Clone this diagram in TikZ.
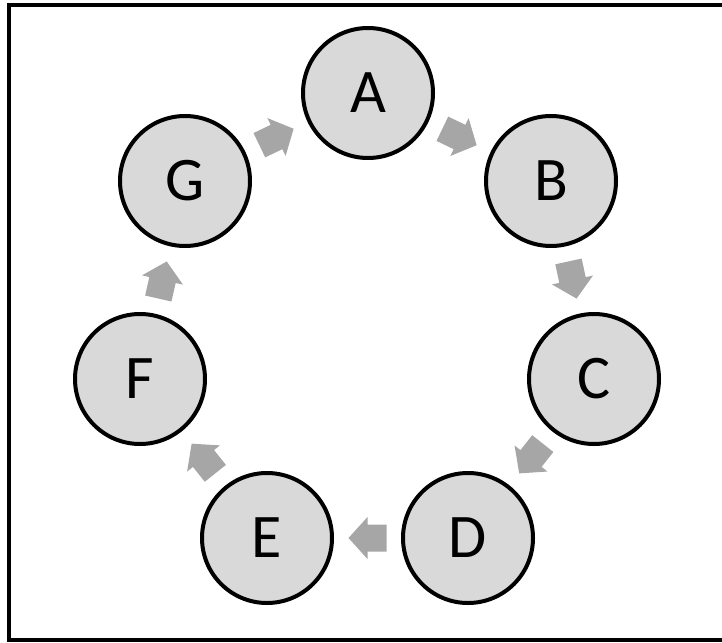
\documentclass[tikz,border=0pt]{standalone}
\usepackage{fontspec}
\setmainfont{Carlito}
\definecolor{nodegray}{HTML}{D9D9D9}
\definecolor{arrowgray}{HTML}{A6A6A6}
\tikzset{
  stage/.style={circle, draw=black, line width=4pt, fill=nodegray, minimum size=130pt, inner sep=0pt, font=\fontsize{62}{62}\selectfont},
  flowarrow/.pic={\fill[arrowgray] (-19,-13.5) -- (0,-13.5) -- (0,-21) -- (19,0) -- (0,21) -- (0,13.5) -- (-19,13.5) -- cycle;},
  frame/.style={draw=black, line width=4pt}
}
\begin{document}
\begin{tikzpicture}[x=1pt, y=-1pt]
\useasboundingbox (0,0) rectangle (722,642);
\clip (0,0) rectangle (722,642);
\draw[frame] (8.5,5.5) rectangle (740,639.5);
\node[stage] (A) at (368,93) {A};
\node[stage] (B) at (551,181) {B};
\node[stage] (C) at (594,379) {C};
\node[stage] (D) at (468,538) {D};
\node[stage] (E) at (267,538) {E};
\node[stage] (F) at (140,379) {F};
\node[stage] (G) at (185,181) {G};
\foreach \s/\t in {A/B, B/C, C/D, D/E, E/F, F/G, G/A}
  \path (\s.center) -- (\t.center) pic[midway, sloped, allow upside down]{flowarrow};
\end{tikzpicture}
\end{document}
